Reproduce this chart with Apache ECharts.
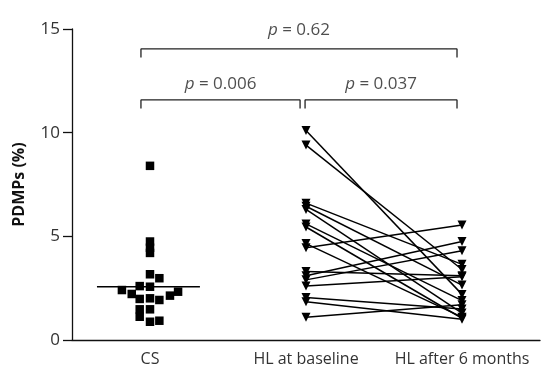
<!DOCTYPE html>
<html>
<head>
<meta charset="utf-8">
<script src="https://cdn.jsdelivr.net/npm/echarts@6/dist/echarts.min.js"></script>
<style>html,body{margin:0;padding:0;background:#fff}#c{width:542px;height:377px}</style>
</head>
<body>
<div id="c"></div>
<script>
// ---- data ----
var categories = ['CS', 'HL at baseline', 'HL after 6 months'];
var yTicks = [0, 5, 10, 15];
var csValues = [8.4, 4.75, 4.45, 4.2, 3.17, 2.98, 2.6, 2.57, 2.41, 2.22, 1.98, 1.48, 1.12, 2.01, 1.48, 0.88, 1.93, 0.93, 2.14, 2.33];
var csJitter = [0, 0, 0, 0, 0, 0.06, -0.066, 0, -0.18, -0.117, -0.066, -0.066, -0.066, 0, 0, 0, 0.06, 0.06, 0.128, 0.18];
var csMean = 2.57;
var hlBaseline = [10.1, 9.4, 6.6, 6.45, 6.3, 5.6, 5.45, 4.65, 4.45, 3.3, 3.1, 2.9, 2.6, 2.05, 1.85, 1.1];
var hlAfter    = [2.2, 3.4, 3.65, 2.65, 1.3, 1.9, 1.05, 1.1, 5.55, 3.1, 4.75, 4.3, 3.05, 1.5, 1.0, 1.7];
var pLabels = ['0.62', '0.006', '0.037'];
// brackets: [fromCat, toCat, level]
var bracketFrom = [-0.058, -0.058, 0.994];
var bracketTo = [1.968, 0.962, 1.968];
var bracketLevel = [14.04, 11.58, 11.58];
var bracketDrop = 0.42;
var labelLift = [0.9, 0.77, 0.77];

var FONT = 'Open Sans';
var series = [];
series.push({
  type: 'scatter', xAxisIndex: 1, symbol: 'rect', symbolSize: 8.5,
  itemStyle: {color: '#000', opacity: 1},
  data: csValues.map(function (v, i) { return [0 + csJitter[i], v]; }),
  z: 3
});
series.push({
  type: 'line', xAxisIndex: 1, symbol: 'none',
  lineStyle: {color: '#000', width: 1.5},
  data: [[-0.34, csMean], [0.32, csMean]]
});
hlBaseline.forEach(function (b, i) {
  series.push({
    type: 'line', xAxisIndex: 1, symbol: 'triangle', symbolRotate: 180, symbolSize: 9,
    showSymbol: true,
    itemStyle: {color: '#000', opacity: 1},
    lineStyle: {color: '#000', width: 1.5},
    data: [[1, b], [2, hlAfter[i]]]
  });
});
bracketFrom.forEach(function (f, i) {
  var t = bracketTo[i], l = bracketLevel[i];
  series.push({
    type: 'line', xAxisIndex: 1, symbol: 'none', clip: false,
    lineStyle: {color: '#222', width: 1.3},
    data: [[f, l - bracketDrop], [f, l], [t, l], [t, l - bracketDrop]]
  });
  series.push({
    type: 'scatter', xAxisIndex: 1, symbolSize: 0, clip: false,
    data: [[(f + t) / 2, l + labelLift[i]]],
    label: {
      show: true, position: 'inside',
      formatter: '{i|p} = ' + pLabels[i],
      color: '#222', fontSize: 17, fontFamily: FONT,
      rich: {i: {fontStyle: 'italic', fontSize: 17, fontFamily: FONT, color: '#222'}}
    }
  });
});

var chart = echarts.init(document.getElementById('c'), null, {renderer: 'canvas'});
chart.setOption({
  animation: false,
  grid: {left: 72, right: 2, top: 29, bottom: 37, containLabel: false},
  xAxis: [{
    type: 'category', data: categories, boundaryGap: true,
    axisLine: {lineStyle: {color: '#111', width: 1.3}},
    axisTick: {alignWithLabel: true, length: 9, lineStyle: {color: '#111', width: 1.3}},
    axisLabel: {color: '#333', fontSize: 16, fontFamily: FONT, margin: 11, interval: 0}
  }, {
    type: 'value', min: -0.5, max: 2.5, show: false
  }],
  yAxis: {
    type: 'value', min: 0, max: 15, interval: 5,
    name: 'PDMPs (%)', nameLocation: 'middle', nameGap: 45,
    nameTextStyle: {fontWeight: 'bold', fontSize: 16, color: '#111', fontFamily: FONT},
    axisLine: {show: true, onZero: false, lineStyle: {color: '#111', width: 1.3}},
    axisTick: {show: true, length: 9, lineStyle: {color: '#111', width: 1.3}},
    axisLabel: {color: '#333', fontSize: 17, fontFamily: FONT, margin: 12,
      formatter: function (v) { return yTicks.indexOf(v) >= 0 ? String(v) : ''; }},
    splitLine: {show: false}
  },
  series: series
});
</script>
</body>
</html>
